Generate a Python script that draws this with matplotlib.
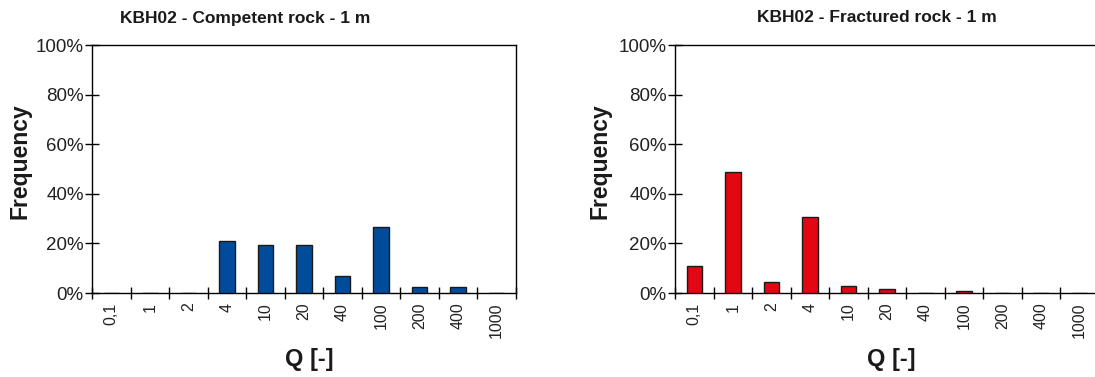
import numpy as np
import matplotlib.pyplot as plt
from matplotlib.ticker import PercentFormatter

plt.rcParams['font.family'] = ['Liberation Sans', 'DejaVu Sans']

# Q-value classes and frequencies (%) per rock class
q_classes = ['0,1', '1', '2', '4', '10', '20', '40', '100', '200', '400', '1000']
competent = [0, 0, 0, 21.1, 19.5, 19.5, 7.0, 26.5, 2.3, 2.3, 0]
fractured = [10.7, 48.9, 4.6, 30.6, 2.9, 1.8, 0, 0.7, 0, 0, 0]

titles = ['KBH02 - Competent rock - 1 m', 'KBH02 - Fractured rock - 1 m']
colors = ['#004C9B', '#E30613']

W, H = 1095, 377
fig = plt.figure(figsize=(W / 100, H / 100), dpi=100)
ax_left = fig.add_axes([92 / W, 84 / H, 424 / W, 248 / H])
ax_right = fig.add_axes([675 / W, 84 / H, 424 / W, 248 / H])

# per-panel placement of title / labels (pixels and axes fractions)
title_x = [245, 877]
ylab_x = [-0.143, -0.149]
xlab_x = [0.512, 0.51]

x = np.arange(len(q_classes))
for i, (ax, vals) in enumerate(zip([ax_left, ax_right], [competent, fractured])):
    ax.bar(x, vals, width=0.4, color=colors[i], edgecolor='#1a1a1a', linewidth=1.0, zorder=3)
    ax.set_xlim(-0.5, len(q_classes) - 0.5)
    ax.set_ylim(0, 100)
    ax.yaxis.set_major_formatter(PercentFormatter(decimals=0))
    ax.set_yticks(np.arange(0, 101, 20))
    ax.tick_params(axis='y', direction='inout', length=10, width=1, labelsize=13.5,
                   pad=1, labelcolor='#222222')

    # tick marks sit on the class boundaries, labels on the class centres
    ax.set_xticks(np.arange(-0.5, len(q_classes)), labels=[])
    ax.tick_params(axis='x', which='major', direction='inout', length=9, width=1)
    ax.set_xticks(x, labels=q_classes, minor=True)
    ax.tick_params(axis='x', which='minor', length=0, labelsize=11.5, labelrotation=90,
                   pad=7, labelcolor='#222222')

    for side in ['top', 'right', 'left', 'bottom']:
        ax.spines[side].set_linewidth(1.0)
        ax.spines[side].set_color('black')

    fig.text(title_x[i] / W, 1 - 18 / H, titles[i], fontsize=12.5, fontweight='bold',
             ha='center', va='center', color='#1a1a1a')
    ax.set_ylabel('Frequency', fontsize=16.5, fontweight='bold', color='#1a1a1a')
    ax.yaxis.set_label_coords(ylab_x[i], 0.532)
    ax.set_xlabel('Q [-]', fontsize=17, fontweight='bold', color='#1a1a1a')
    ax.xaxis.set_label_coords(xlab_x[i], -0.22)

fig.savefig('out.png', dpi=100)
